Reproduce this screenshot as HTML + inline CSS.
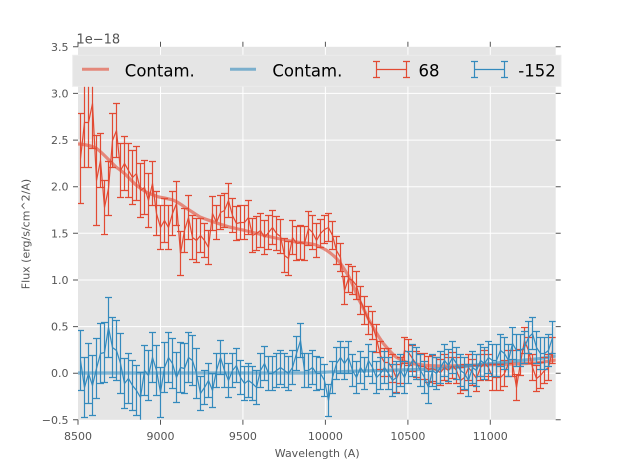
<!DOCTYPE html>
<html>
<head>
<meta charset="utf-8">
<style>
  html,body{margin:0;padding:0;background:#ffffff;}
  svg{display:block;font-family:"DejaVu Sans","Liberation Sans",sans-serif;}
</style>
</head>
<body>
<svg width="617" height="467" viewBox="0 0 617 467" xmlns="http://www.w3.org/2000/svg">
  <defs>
    <clipPath id="ax"><rect x="78" y="46.8" width="477.7" height="373"/></clipPath>
  </defs>
  <rect x="0" y="0" width="617" height="467" fill="#ffffff"/>
  <!-- axes background -->
  <rect x="78" y="46.8" width="477.7" height="373" fill="#e5e5e5"/>
  <!-- grid -->
  <g stroke="#ffffff" stroke-width="1">
    <line x1="160.5" y1="46.8" x2="160.5" y2="419.8"/>
    <line x1="242.9" y1="46.8" x2="242.9" y2="419.8"/>
    <line x1="325.4" y1="46.8" x2="325.4" y2="419.8"/>
    <line x1="407.9" y1="46.8" x2="407.9" y2="419.8"/>
    <line x1="490.3" y1="46.8" x2="490.3" y2="419.8"/>
    <line x1="78" y1="93.4" x2="555.7" y2="93.4"/>
    <line x1="78" y1="140.1" x2="555.7" y2="140.1"/>
    <line x1="78" y1="186.7" x2="555.7" y2="186.7"/>
    <line x1="78" y1="233.3" x2="555.7" y2="233.3"/>
    <line x1="78" y1="280" x2="555.7" y2="280"/>
    <line x1="78" y1="326.6" x2="555.7" y2="326.6"/>
    <line x1="78" y1="373.2" x2="555.7" y2="373.2"/>
  </g>
  <!-- ticks -->
  <g stroke="#555555" stroke-width="1">
    <path d="M78 419.8v5M160.5 419.8v5M242.9 419.8v5M325.4 419.8v5M407.9 419.8v5M490.3 419.8v5"/>
    <path d="M78 46.8v-5M160.5 46.8v-5M242.9 46.8v-5M325.4 46.8v-5M407.9 46.8v-5M490.3 46.8v-5"/>
    <path d="M78 46.8h-5M78 93.4h-5M78 140.1h-5M78 186.7h-5M78 233.3h-5M78 280h-5M78 326.6h-5M78 373.2h-5M78 419.8h-5"/>
    <path d="M555.7 46.8h5M555.7 93.4h5M555.7 140.1h5M555.7 186.7h5M555.7 233.3h5M555.7 280h5M555.7 326.6h5M555.7 373.2h5M555.7 419.8h5"/>
  </g>
  <g clip-path="url(#ax)" fill="none">
    <!-- contam lines -->
    <path d="M78 144 L80 144 C88 145 92 146 96 148 C100 151 103 154 106 157 C110 161 113 164 116 167 C120 170 123 172 126 175 C130 179 133 182 136 185 C140 188 143 190 146 192 C151 194 155 196 159 197 C165 198 169 199 173 200 C178 202 182 205 186 208 C191 211 195 214 200 217 C210 221 220 224 229 227 C234 228 238 229 243 230 C250 232 256 233 263 235 C274 238 285 240 296 242 C303 243 309 243 316 245 C324 248 330 252 336 258 C341 263 345 270 349 277 C353 285 356 292 359 300 C363 307 366 314 369 320 C374 329 378 336 383 343 C388 349 391 353 396 357 C401 360 405 362 409 363 C420 365 430 366 440 366 C460 366 475 365 486 365 C505 364 520 364 536 363 C545 362 550 361 556 360" stroke="#E24A33" stroke-opacity="0.6" stroke-width="3.2"/>
    <path d="M78 373 L300 373 C310 373 320 372.5 330 372 C355 371 380 370.5 400 370 C415 369.5 426 369.3 436 369 C455 367.5 470 366 486 364 C505 362 520 360.5 536 359 C545 358 550 357 556 356" stroke="#348ABD" stroke-opacity="0.6" stroke-width="3.2"/>

    <!-- red series -->
    <g stroke="#E24A33" stroke-width="1.2" transform="translate(0.5,0.5)">
      <polyline points="80,158 84,122 88,122 92,103 96,180 100,160 104,207 108,188 112,140 116,130 120,170 124,163 128,170 132,177 136,173 140,190 144,187 148,200 152,183 156,213 160,227 164,220 168,227 172,213 176,203 180,253 184,230 188,217 192,237 196,240 200,235 204,240 208,247 212,213 216,222 220,212 224,210 228,200 232,215 236,223 240,222 244,222 248,217 252,235 256,233 260,230 264,237 268,232 272,227 276,233 280,236 284,255 288,258 292,237 296,243 300,242 304,243 308,228 312,232 316,240 320,233 324,229 328,227 332,235 336,250 340,257 344,290 348,278 352,280 356,285 360,300 364,310 368,320 372,325 376,338 380,355 384,362 388,362 392,368 396,378 400,370 404,350 408,352 412,358 416,364 420,366 424,366 428,369 432,368 436,370 440,372 444,367 448,370 452,365 456,370 460,380 464,377 468,367 472,372 476,378 480,367 484,363 488,367 492,377 496,377 500,377 504,373 508,363 512,363 516,387 520,362 524,340 528,350 532,367 536,378 540,375 544,370 548,367 552,350"/>
      <path d="M80 158m-3.5-45h7m-3.5 0v90m-3.5 0h7M84 122m-3.5-45h7m-3.5 0v90m-3.5 0h7M88 122m-3.5-45h7m-3.5 0v90m-3.5 0h7M92 103m-3.5-45h7m-3.5 0v90m-3.5 0h7M96 180m-3.5-45h7m-3.5 0v90m-3.5 0h7
M100 160m-3.5-27h7m-3.5 0v54m-3.5 0h7M104 207m-3.5-27h7m-3.5 0v54m-3.5 0h7M108 188m-3.5-27h7m-3.5 0v54m-3.5 0h7M112 140m-3.5-27h7m-3.5 0v54m-3.5 0h7M116 130m-3.5-27h7m-3.5 0v54m-3.5 0h7M120 170m-3.5-27h7m-3.5 0v54m-3.5 0h7M124 163m-3.5-27h7m-3.5 0v54m-3.5 0h7M128 170m-3.5-27h7m-3.5 0v54m-3.5 0h7M132 177m-3.5-27h7m-3.5 0v54m-3.5 0h7M136 173m-3.5-27h7m-3.5 0v54m-3.5 0h7M140 190m-3.5-27h7m-3.5 0v54m-3.5 0h7M144 187m-3.5-27h7m-3.5 0v54m-3.5 0h7M148 200m-3.5-27h7m-3.5 0v54m-3.5 0h7
M152 183m-3.5-22h7m-3.5 0v44m-3.5 0h7M156 213m-3.5-22h7m-3.5 0v44m-3.5 0h7M160 227m-3.5-22h7m-3.5 0v44m-3.5 0h7M164 220m-3.5-22h7m-3.5 0v44m-3.5 0h7M168 227m-3.5-22h7m-3.5 0v44m-3.5 0h7M172 213m-3.5-22h7m-3.5 0v44m-3.5 0h7M176 203m-3.5-22h7m-3.5 0v44m-3.5 0h7M180 253m-3.5-22h7m-3.5 0v44m-3.5 0h7M184 230m-3.5-22h7m-3.5 0v44m-3.5 0h7M188 217m-3.5-22h7m-3.5 0v44m-3.5 0h7M192 237m-3.5-22h7m-3.5 0v44m-3.5 0h7M196 240m-3.5-22h7m-3.5 0v44m-3.5 0h7
M200 235m-3.5-17h7m-3.5 0v34m-3.5 0h7M204 240m-3.5-17h7m-3.5 0v34m-3.5 0h7M208 247m-3.5-17h7m-3.5 0v34m-3.5 0h7M212 213m-3.5-17h7m-3.5 0v34m-3.5 0h7M216 222m-3.5-17h7m-3.5 0v34m-3.5 0h7M220 212m-3.5-17h7m-3.5 0v34m-3.5 0h7M224 210m-3.5-17h7m-3.5 0v34m-3.5 0h7M228 200m-3.5-17h7m-3.5 0v34m-3.5 0h7M232 215m-3.5-17h7m-3.5 0v34m-3.5 0h7M236 223m-3.5-17h7m-3.5 0v34m-3.5 0h7M240 222m-3.5-17h7m-3.5 0v34m-3.5 0h7M244 222m-3.5-17h7m-3.5 0v34m-3.5 0h7M248 217m-3.5-17h7m-3.5 0v34m-3.5 0h7M252 235m-3.5-17h7m-3.5 0v34m-3.5 0h7M256 233m-3.5-17h7m-3.5 0v34m-3.5 0h7M260 230m-3.5-17h7m-3.5 0v34m-3.5 0h7M264 237m-3.5-17h7m-3.5 0v34m-3.5 0h7M268 232m-3.5-17h7m-3.5 0v34m-3.5 0h7M272 227m-3.5-17h7m-3.5 0v34m-3.5 0h7M276 233m-3.5-17h7m-3.5 0v34m-3.5 0h7M280 236m-3.5-17h7m-3.5 0v34m-3.5 0h7M284 255m-3.5-17h7m-3.5 0v34m-3.5 0h7M288 258m-3.5-17h7m-3.5 0v34m-3.5 0h7M292 237m-3.5-17h7m-3.5 0v34m-3.5 0h7M296 243m-3.5-17h7m-3.5 0v34m-3.5 0h7M300 242m-3.5-17h7m-3.5 0v34m-3.5 0h7M304 243m-3.5-17h7m-3.5 0v34m-3.5 0h7M308 228m-3.5-17h7m-3.5 0v34m-3.5 0h7M312 232m-3.5-17h7m-3.5 0v34m-3.5 0h7M316 240m-3.5-17h7m-3.5 0v34m-3.5 0h7
M320 233m-3.5-14h7m-3.5 0v28m-3.5 0h7M324 229m-3.5-14h7m-3.5 0v28m-3.5 0h7M328 227m-3.5-14h7m-3.5 0v28m-3.5 0h7M332 235m-3.5-14h7m-3.5 0v28m-3.5 0h7M336 250m-3.5-14h7m-3.5 0v28m-3.5 0h7M340 257m-3.5-14h7m-3.5 0v28m-3.5 0h7M344 290m-3.5-14h7m-3.5 0v28m-3.5 0h7M348 278m-3.5-14h7m-3.5 0v28m-3.5 0h7M352 280m-3.5-14h7m-3.5 0v28m-3.5 0h7M356 285m-3.5-14h7m-3.5 0v28m-3.5 0h7M360 300m-3.5-14h7m-3.5 0v28m-3.5 0h7M364 310m-3.5-14h7m-3.5 0v28m-3.5 0h7M368 320m-3.5-14h7m-3.5 0v28m-3.5 0h7M372 325m-3.5-14h7m-3.5 0v28m-3.5 0h7M376 338m-3.5-14h7m-3.5 0v28m-3.5 0h7M380 355m-3.5-14h7m-3.5 0v28m-3.5 0h7M384 362m-3.5-14h7m-3.5 0v28m-3.5 0h7M388 362m-3.5-14h7m-3.5 0v28m-3.5 0h7M392 368m-3.5-14h7m-3.5 0v28m-3.5 0h7M396 378m-3.5-14h7m-3.5 0v28m-3.5 0h7
M400 370m-3.5-13h7m-3.5 0v26m-3.5 0h7M404 350m-3.5-13h7m-3.5 0v26m-3.5 0h7M408 352m-3.5-13h7m-3.5 0v26m-3.5 0h7M412 358m-3.5-13h7m-3.5 0v26m-3.5 0h7M416 364m-3.5-13h7m-3.5 0v26m-3.5 0h7M420 366m-3.5-13h7m-3.5 0v26m-3.5 0h7M424 366m-3.5-13h7m-3.5 0v26m-3.5 0h7M428 369m-3.5-13h7m-3.5 0v26m-3.5 0h7M432 368m-3.5-13h7m-3.5 0v26m-3.5 0h7M436 370m-3.5-13h7m-3.5 0v26m-3.5 0h7M440 372m-3.5-13h7m-3.5 0v26m-3.5 0h7M444 367m-3.5-13h7m-3.5 0v26m-3.5 0h7M448 370m-3.5-13h7m-3.5 0v26m-3.5 0h7M452 365m-3.5-13h7m-3.5 0v26m-3.5 0h7M456 370m-3.5-13h7m-3.5 0v26m-3.5 0h7M460 380m-3.5-13h7m-3.5 0v26m-3.5 0h7M464 377m-3.5-13h7m-3.5 0v26m-3.5 0h7M468 367m-3.5-13h7m-3.5 0v26m-3.5 0h7M472 372m-3.5-13h7m-3.5 0v26m-3.5 0h7M476 378m-3.5-13h7m-3.5 0v26m-3.5 0h7M480 367m-3.5-13h7m-3.5 0v26m-3.5 0h7M484 363m-3.5-13h7m-3.5 0v26m-3.5 0h7M488 367m-3.5-13h7m-3.5 0v26m-3.5 0h7M492 377m-3.5-13h7m-3.5 0v26m-3.5 0h7M496 377m-3.5-13h7m-3.5 0v26m-3.5 0h7M500 377m-3.5-13h7m-3.5 0v26m-3.5 0h7M504 373m-3.5-13h7m-3.5 0v26m-3.5 0h7M508 363m-3.5-13h7m-3.5 0v26m-3.5 0h7M512 363m-3.5-13h7m-3.5 0v26m-3.5 0h7M516 387m-3.5-13h7m-3.5 0v26m-3.5 0h7M520 362m-3.5-13h7m-3.5 0v26m-3.5 0h7M524 340m-3.5-13h7m-3.5 0v26m-3.5 0h7M528 350m-3.5-13h7m-3.5 0v26m-3.5 0h7M532 367m-3.5-13h7m-3.5 0v26m-3.5 0h7M536 378m-3.5-13h7m-3.5 0v26m-3.5 0h7M540 375m-3.5-13h7m-3.5 0v26m-3.5 0h7M544 370m-3.5-13h7m-3.5 0v26m-3.5 0h7M548 367m-3.5-13h7m-3.5 0v26m-3.5 0h7M552 350m-3.5-13h7m-3.5 0v26m-3.5 0h7"/>
    </g>

    <!-- blue series -->
    <g stroke="#348ABD" stroke-width="1.2" transform="translate(0.5,0.5)">
      <polyline points="80,360 84,387 88,373 92,385 96,368 100,353 104,352 108,327 112,347 116,350 120,363 124,383 128,378 132,385 136,390 140,397 144,370 148,375 152,357 156,370 160,392 164,367 168,357 172,363 176,377 180,367 184,368 188,357 192,360 196,373 200,393 204,387 208,380 212,390 216,370 220,357 224,370 228,380 232,370 236,365 240,377 244,383 248,380 252,383 256,387 260,370 264,363 268,373 272,373 276,370 280,367 284,370 288,373 292,367 296,353 300,340 304,370 308,370 312,367 316,373 320,373 324,380 328,400 332,377 336,363 340,357 344,363 348,357 352,370 356,377 360,367 364,373 368,360 372,367 376,377 380,373 384,367 388,373 392,380 396,377 400,370 404,377 408,367 412,360 416,363 420,370 424,377 428,387 432,370 436,373 440,367 444,360 448,365 452,357 456,363 460,370 464,373 468,380 472,367 476,370 480,360 484,363 488,357 492,360 496,360 500,350 504,353 508,360 512,343 516,350 520,350 524,347 528,337 532,333 536,347 540,353 544,353 548,350 552,337"/>
      <path d="M80 360m-3.5-30h7m-3.5 0v60m-3.5 0h7M84 387m-3.5-30h7m-3.5 0v60m-3.5 0h7M88 373m-3.5-30h7m-3.5 0v60m-3.5 0h7M92 385m-3.5-30h7m-3.5 0v60m-3.5 0h7M96 368m-3.5-30h7m-3.5 0v60m-3.5 0h7M100 353m-3.5-30h7m-3.5 0v60m-3.5 0h7M104 352m-3.5-30h7m-3.5 0v60m-3.5 0h7M108 327m-3.5-30h7m-3.5 0v60m-3.5 0h7M112 347m-3.5-30h7m-3.5 0v60m-3.5 0h7M116 350m-3.5-30h7m-3.5 0v60m-3.5 0h7M120 363m-3.5-30h7m-3.5 0v60m-3.5 0h7
M124 383m-3.5-25h7m-3.5 0v50m-3.5 0h7M128 378m-3.5-25h7m-3.5 0v50m-3.5 0h7M132 385m-3.5-25h7m-3.5 0v50m-3.5 0h7M136 390m-3.5-25h7m-3.5 0v50m-3.5 0h7M140 397m-3.5-25h7m-3.5 0v50m-3.5 0h7M144 370m-3.5-25h7m-3.5 0v50m-3.5 0h7M148 375m-3.5-25h7m-3.5 0v50m-3.5 0h7M152 357m-3.5-25h7m-3.5 0v50m-3.5 0h7M156 370m-3.5-25h7m-3.5 0v50m-3.5 0h7M160 392m-3.5-25h7m-3.5 0v50m-3.5 0h7M164 367m-3.5-25h7m-3.5 0v50m-3.5 0h7M168 357m-3.5-25h7m-3.5 0v50m-3.5 0h7M172 363m-3.5-25h7m-3.5 0v50m-3.5 0h7M176 377m-3.5-25h7m-3.5 0v50m-3.5 0h7M180 367m-3.5-25h7m-3.5 0v50m-3.5 0h7M184 368m-3.5-25h7m-3.5 0v50m-3.5 0h7M188 357m-3.5-25h7m-3.5 0v50m-3.5 0h7M192 360m-3.5-25h7m-3.5 0v50m-3.5 0h7M196 373m-3.5-25h7m-3.5 0v50m-3.5 0h7
M200 393m-3.5-17h7m-3.5 0v34m-3.5 0h7M204 387m-3.5-17h7m-3.5 0v34m-3.5 0h7M208 380m-3.5-17h7m-3.5 0v34m-3.5 0h7M212 390m-3.5-17h7m-3.5 0v34m-3.5 0h7M216 370m-3.5-17h7m-3.5 0v34m-3.5 0h7M220 357m-3.5-17h7m-3.5 0v34m-3.5 0h7M224 370m-3.5-17h7m-3.5 0v34m-3.5 0h7M228 380m-3.5-17h7m-3.5 0v34m-3.5 0h7M232 370m-3.5-17h7m-3.5 0v34m-3.5 0h7M236 365m-3.5-17h7m-3.5 0v34m-3.5 0h7M240 377m-3.5-17h7m-3.5 0v34m-3.5 0h7M244 383m-3.5-17h7m-3.5 0v34m-3.5 0h7M248 380m-3.5-17h7m-3.5 0v34m-3.5 0h7M252 383m-3.5-17h7m-3.5 0v34m-3.5 0h7M256 387m-3.5-17h7m-3.5 0v34m-3.5 0h7M260 370m-3.5-17h7m-3.5 0v34m-3.5 0h7M264 363m-3.5-17h7m-3.5 0v34m-3.5 0h7M268 373m-3.5-17h7m-3.5 0v34m-3.5 0h7M272 373m-3.5-17h7m-3.5 0v34m-3.5 0h7M276 370m-3.5-17h7m-3.5 0v34m-3.5 0h7M280 367m-3.5-17h7m-3.5 0v34m-3.5 0h7M284 370m-3.5-17h7m-3.5 0v34m-3.5 0h7M288 373m-3.5-17h7m-3.5 0v34m-3.5 0h7M292 367m-3.5-17h7m-3.5 0v34m-3.5 0h7M296 353m-3.5-17h7m-3.5 0v34m-3.5 0h7M300 340m-3.5-17h7m-3.5 0v34m-3.5 0h7M304 370m-3.5-17h7m-3.5 0v34m-3.5 0h7M308 370m-3.5-17h7m-3.5 0v34m-3.5 0h7M312 367m-3.5-17h7m-3.5 0v34m-3.5 0h7M316 373m-3.5-17h7m-3.5 0v34m-3.5 0h7
M320 373m-3.5-16h7m-3.5 0v32m-3.5 0h7M324 380m-3.5-16h7m-3.5 0v32m-3.5 0h7M328 400m-3.5-16h7m-3.5 0v32m-3.5 0h7M332 377m-3.5-16h7m-3.5 0v32m-3.5 0h7M336 363m-3.5-16h7m-3.5 0v32m-3.5 0h7M340 357m-3.5-16h7m-3.5 0v32m-3.5 0h7M344 363m-3.5-16h7m-3.5 0v32m-3.5 0h7M348 357m-3.5-16h7m-3.5 0v32m-3.5 0h7M352 370m-3.5-16h7m-3.5 0v32m-3.5 0h7M356 377m-3.5-16h7m-3.5 0v32m-3.5 0h7M360 367m-3.5-16h7m-3.5 0v32m-3.5 0h7M364 373m-3.5-16h7m-3.5 0v32m-3.5 0h7M368 360m-3.5-16h7m-3.5 0v32m-3.5 0h7M372 367m-3.5-16h7m-3.5 0v32m-3.5 0h7M376 377m-3.5-16h7m-3.5 0v32m-3.5 0h7M380 373m-3.5-16h7m-3.5 0v32m-3.5 0h7M384 367m-3.5-16h7m-3.5 0v32m-3.5 0h7M388 373m-3.5-16h7m-3.5 0v32m-3.5 0h7M392 380m-3.5-16h7m-3.5 0v32m-3.5 0h7M396 377m-3.5-16h7m-3.5 0v32m-3.5 0h7M400 370m-3.5-16h7m-3.5 0v32m-3.5 0h7M404 377m-3.5-16h7m-3.5 0v32m-3.5 0h7M408 367m-3.5-16h7m-3.5 0v32m-3.5 0h7M412 360m-3.5-16h7m-3.5 0v32m-3.5 0h7M416 363m-3.5-16h7m-3.5 0v32m-3.5 0h7M420 370m-3.5-16h7m-3.5 0v32m-3.5 0h7M424 377m-3.5-16h7m-3.5 0v32m-3.5 0h7M428 387m-3.5-16h7m-3.5 0v32m-3.5 0h7M432 370m-3.5-16h7m-3.5 0v32m-3.5 0h7M436 373m-3.5-16h7m-3.5 0v32m-3.5 0h7M440 367m-3.5-16h7m-3.5 0v32m-3.5 0h7M444 360m-3.5-16h7m-3.5 0v32m-3.5 0h7M448 365m-3.5-16h7m-3.5 0v32m-3.5 0h7M452 357m-3.5-16h7m-3.5 0v32m-3.5 0h7M456 363m-3.5-16h7m-3.5 0v32m-3.5 0h7M460 370m-3.5-16h7m-3.5 0v32m-3.5 0h7M464 373m-3.5-16h7m-3.5 0v32m-3.5 0h7M468 380m-3.5-16h7m-3.5 0v32m-3.5 0h7M472 367m-3.5-16h7m-3.5 0v32m-3.5 0h7M476 370m-3.5-16h7m-3.5 0v32m-3.5 0h7M480 360m-3.5-16h7m-3.5 0v32m-3.5 0h7M484 363m-3.5-16h7m-3.5 0v32m-3.5 0h7M488 357m-3.5-16h7m-3.5 0v32m-3.5 0h7M492 360m-3.5-16h7m-3.5 0v32m-3.5 0h7M496 360m-3.5-16h7m-3.5 0v32m-3.5 0h7M500 350m-3.5-16h7m-3.5 0v32m-3.5 0h7M504 353m-3.5-16h7m-3.5 0v32m-3.5 0h7M508 360m-3.5-16h7m-3.5 0v32m-3.5 0h7M512 343m-3.5-16h7m-3.5 0v32m-3.5 0h7M516 350m-3.5-16h7m-3.5 0v32m-3.5 0h7M520 350m-3.5-16h7m-3.5 0v32m-3.5 0h7M524 347m-3.5-16h7m-3.5 0v32m-3.5 0h7M528 337m-3.5-16h7m-3.5 0v32m-3.5 0h7M532 333m-3.5-16h7m-3.5 0v32m-3.5 0h7M536 347m-3.5-16h7m-3.5 0v32m-3.5 0h7M540 353m-3.5-16h7m-3.5 0v32m-3.5 0h7M544 353m-3.5-16h7m-3.5 0v32m-3.5 0h7M548 350m-3.5-16h7m-3.5 0v32m-3.5 0h7M552 337m-3.5-16h7m-3.5 0v32m-3.5 0h7"/>
    </g>
  </g>

  <!-- tick labels -->
  <g fill="#555555" font-size="11">
    <g text-anchor="end">
      <text x="68.5" y="50.8">3.5</text>
      <text x="68.5" y="97.4">3.0</text>
      <text x="68.5" y="144.1">2.5</text>
      <text x="68.5" y="190.7">2.0</text>
      <text x="68.5" y="237.3">1.5</text>
      <text x="68.5" y="284">1.0</text>
      <text x="68.5" y="330.6">0.5</text>
      <text x="68.5" y="377.2">0.0</text>
      <text x="68.5" y="423.8">−0.5</text>
    </g>
    <g text-anchor="middle">
      <text x="78" y="440">8500</text>
      <text x="160.5" y="440">9000</text>
      <text x="242.9" y="440">9500</text>
      <text x="325.4" y="440">10000</text>
      <text x="407.9" y="440">10500</text>
      <text x="490.3" y="440">11000</text>
    </g>
    <text x="317.2" y="457" text-anchor="middle">Wavelength (A)</text>
    <text transform="translate(29.5,234) rotate(-90)" text-anchor="middle">Flux (erg/s/cm^2/A)</text>
    <text x="76.5" y="43.3" font-size="13">1e−18</text>
  </g>

  <!-- legend -->
  <rect x="72.7" y="55.3" width="488.3" height="31" fill="#e5e5e5" stroke="#ececec" stroke-width="1"/>
  <line x1="82" y1="69.3" x2="109" y2="69.3" stroke="#E24A33" stroke-opacity="0.6" stroke-width="3"/>
  <line x1="230" y1="69.3" x2="256" y2="69.3" stroke="#348ABD" stroke-opacity="0.6" stroke-width="3"/>
  <path d="M376.5 69.5H406.5M376.5 61.5V77.5M406.5 61.5V77.5M373 61.5h7M373 77.5h7M403 61.5h7M403 77.5h7" stroke="#E24A33" stroke-width="1.2" fill="none"/>
  <path d="M474.5 69.5H504.5M474.5 61.5V77.5M504.5 61.5V77.5M471 61.5h7M471 77.5h7M501 61.5h7M501 77.5h7" stroke="#348ABD" stroke-width="1.2" fill="none"/>
  <g fill="#000000" font-size="16.5">
    <text x="124.8" y="76.3">Contam.</text>
    <text x="272.4" y="76.3">Contam.</text>
    <text x="418.5" y="76.3">68</text>
    <text x="518.3" y="76.3">-152</text>
  </g>
</svg>
</body>
</html>
